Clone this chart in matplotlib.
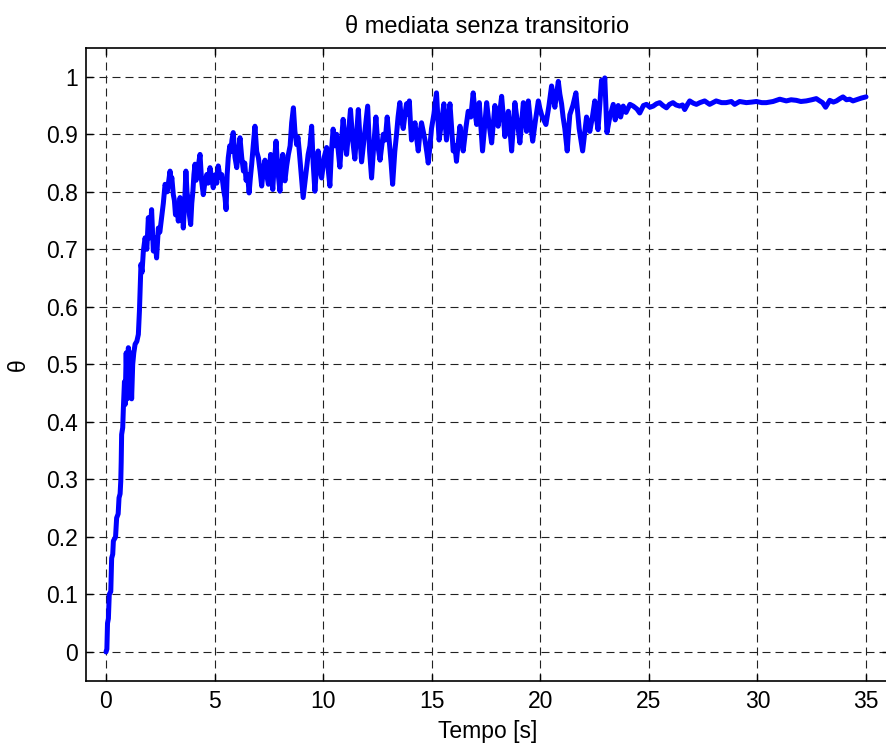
import matplotlib
matplotlib.use("Agg")
import matplotlib.pyplot as plt

plt.rcParams['font.family'] = ['Liberation Sans', 'DejaVu Sans']

title = "\u03b8 mediata senza transitorio"
xlabel = "Tempo [s]"
ylabel = "\u03b8"
xticks = [0, 5, 10, 15, 20, 25, 30, 35]
yticks = [0, 0.1, 0.2, 0.3, 0.4, 0.5, 0.6, 0.7, 0.8, 0.9, 1.0]
ytick_labels = ["0", "0.1", "0.2", "0.3", "0.4", "0.5", "0.6", "0.7", "0.8", "0.9", "1"]

# rise (0 - 3 s)
time_rise = [
    0.00, 0.04, 0.07, 0.11, 0.15, 0.22, 0.26, 0.31, 0.34, 0.44, 0.49, 0.56, 0.60, 0.65,
    0.68, 0.70, 0.72, 0.77, 0.80, 0.85, 0.88, 0.93, 0.98, 1.03, 1.08, 1.13, 1.18, 1.23,
    1.28, 1.34, 1.42, 1.49, 1.54, 1.58, 1.61, 1.66, 1.72, 1.80, 1.88, 1.95, 2.02, 2.10,
    2.18, 2.25, 2.33, 2.41, 2.48, 2.56, 2.64, 2.72, 2.82,
]
theta_rise = [
    0.000, 0.005, 0.050, 0.058, 0.100, 0.105, 0.163, 0.170, 0.193, 0.200, 0.233, 0.240, 0.268, 0.275,
    0.297, 0.330, 0.378, 0.390, 0.424, 0.470, 0.430, 0.520, 0.440, 0.529, 0.450, 0.520, 0.440, 0.500,
    0.520, 0.535, 0.540, 0.552, 0.593, 0.640, 0.674, 0.660, 0.697, 0.720, 0.700, 0.755, 0.720, 0.769,
    0.697, 0.720, 0.685, 0.737, 0.730, 0.755, 0.780, 0.813, 0.800,
]

# noisy plateau (3 - 23 s)
time_noisy = [
    2.95, 3.00, 3.03, 3.10, 3.15, 3.20, 3.27, 3.33, 3.37, 3.41, 3.45, 3.49, 3.52, 3.56,
    3.62, 3.68, 3.73, 3.79, 3.84, 3.90, 3.95, 4.00, 4.05, 4.10, 4.15, 4.20, 4.27, 4.33,
    4.40, 4.48, 4.55, 4.64, 4.70, 4.79, 4.86, 4.94, 5.00, 5.05, 5.10, 5.17, 5.25, 5.33,
    5.38, 5.43, 5.48, 5.53, 5.58, 5.63, 5.70, 5.75, 5.80, 5.86, 5.94, 6.02, 6.10, 6.17,
    6.25, 6.33, 6.39, 6.45, 6.52, 6.59, 6.65, 6.71, 6.78, 6.86, 6.94, 7.02, 7.10, 7.17,
    7.25, 7.32, 7.40, 7.48, 7.53, 7.58, 7.63, 7.68, 7.75, 7.83, 7.92, 8.01, 8.07, 8.14,
    8.19, 8.24, 8.32, 8.40, 8.48, 8.55, 8.63, 8.70, 8.78, 8.84, 8.90, 8.99, 9.08, 9.20,
    9.31, 9.39, 9.47, 9.54, 9.62, 9.70, 9.77, 9.85, 9.93, 10.05, 10.16, 10.23, 10.31,
    10.38, 10.46, 10.54, 10.62, 10.70, 10.77, 10.85, 10.92, 11.00, 11.08, 11.17, 11.26,
    11.36, 11.46, 11.54, 11.62, 11.70, 11.77, 11.85, 11.95, 12.05, 12.14, 12.23, 12.33,
    12.43, 12.52, 12.62, 12.70, 12.77, 12.86, 12.95, 13.07, 13.13, 13.20, 13.30, 13.38,
    13.45, 13.53, 13.61, 13.69, 13.77, 13.84, 13.90, 13.97, 14.02, 14.07, 14.15, 14.23,
    14.30, 14.38, 14.45, 14.53, 14.61, 14.69, 14.77, 14.84, 14.92, 14.99, 15.10, 15.22,
    15.28, 15.34, 15.45, 15.56, 15.62, 15.68, 15.76, 15.84, 15.92, 15.99, 16.07, 16.14,
    16.22, 16.30, 16.38, 16.45, 16.57, 16.68, 16.80, 16.91, 16.99, 17.07, 17.13, 17.19,
    17.27, 17.34, 17.44, 17.53, 17.65, 17.76, 17.84, 17.91, 17.98, 18.06, 18.14, 18.22,
    18.30, 18.37, 18.45, 18.53, 18.61, 18.68, 18.76, 18.83, 18.95, 19.06, 19.14, 19.22,
    19.30, 19.37, 19.45, 19.55, 19.65, 19.78, 19.91, 19.98, 20.06, 20.16, 20.26, 20.40,
    20.52, 20.60, 20.67, 20.75, 20.83, 20.90, 20.98, 21.05, 21.13, 21.24, 21.30, 21.36,
    21.50, 21.64, 21.72, 21.79, 21.87, 21.95, 22.04, 22.13, 22.20, 22.28, 22.40, 22.51,
    22.58, 22.66, 22.74, 22.82, 22.90, 22.97,
]
theta_noisy = [
    0.836, 0.815, 0.825, 0.795, 0.785, 0.760, 0.775, 0.749, 0.770, 0.790, 0.765, 0.750, 0.770, 0.737,
    0.780, 0.836, 0.800, 0.784, 0.760, 0.743, 0.780, 0.800, 0.830, 0.848, 0.820, 0.830, 0.850, 0.865,
    0.820, 0.795, 0.815, 0.830, 0.815, 0.842, 0.825, 0.807, 0.825, 0.830, 0.815, 0.845, 0.825, 0.830,
    0.815, 0.800, 0.790, 0.769, 0.830, 0.859, 0.880, 0.870, 0.890, 0.903, 0.860, 0.842, 0.870, 0.894,
    0.860, 0.836, 0.850, 0.820, 0.830, 0.798, 0.825, 0.848, 0.880, 0.914, 0.870, 0.859, 0.835, 0.810,
    0.840, 0.855, 0.830, 0.813, 0.840, 0.865, 0.830, 0.804, 0.850, 0.888, 0.835, 0.801, 0.840, 0.865,
    0.835, 0.819, 0.845, 0.865, 0.880, 0.920, 0.946, 0.905, 0.882, 0.895, 0.871, 0.830, 0.790, 0.830,
    0.865, 0.880, 0.914, 0.850, 0.801, 0.845, 0.871, 0.840, 0.824, 0.860, 0.877, 0.840, 0.810,
    0.870, 0.909, 0.880, 0.900, 0.870, 0.843, 0.890, 0.926, 0.890, 0.865, 0.905, 0.943,
    0.890, 0.857, 0.900, 0.943, 0.890, 0.852, 0.880, 0.915, 0.949, 0.870, 0.824, 0.880,
    0.930, 0.880, 0.855, 0.880, 0.900, 0.890, 0.930, 0.877, 0.850, 0.813, 0.870, 0.900,
    0.930, 0.955, 0.925, 0.910, 0.935, 0.953, 0.935, 0.958, 0.920, 0.890, 0.905, 0.920,
    0.895, 0.871, 0.900, 0.920, 0.905, 0.890, 0.870, 0.850, 0.880, 0.910, 0.935, 0.972,
    0.930, 0.890, 0.920, 0.953, 0.920, 0.890, 0.925, 0.953, 0.910, 0.871, 0.880, 0.853,
    0.885, 0.914, 0.890, 0.871, 0.910, 0.940, 0.930, 0.972, 0.940, 0.917, 0.935, 0.955,
    0.910, 0.871, 0.915, 0.955, 0.915, 0.885, 0.920, 0.950, 0.930, 0.914, 0.940, 0.966,
    0.930, 0.896, 0.920, 0.940, 0.905, 0.871, 0.915, 0.955, 0.920, 0.885, 0.920, 0.955,
    0.930, 0.905, 0.958, 0.920, 0.888, 0.925, 0.958, 0.945, 0.934, 0.925, 0.917, 0.950,
    0.984, 0.965, 0.947, 0.970, 0.992, 0.970, 0.953, 0.930, 0.910, 0.871, 0.905, 0.934,
    0.950, 0.972, 0.940, 0.910, 0.890, 0.871, 0.900, 0.930, 0.920, 0.905, 0.930, 0.958,
    0.930, 0.908, 0.950, 0.994, 0.975, 0.998,
]

# settling (23 - 35 s)
time_settle = [
    23.07, 23.20, 23.36, 23.45, 23.59, 23.70, 23.82, 23.95, 24.13, 24.28,
    24.45, 24.58, 24.75, 24.89, 25.05, 25.20, 25.35, 25.50, 25.65, 25.81, 25.95, 26.11,
    26.25, 26.42, 26.55, 26.65, 26.78, 26.88, 27.05, 27.19, 27.35, 27.57, 27.80, 28.10,
    28.35, 28.56, 28.80, 28.95, 29.18, 29.49, 29.75, 29.95, 30.20, 30.41, 30.72, 31.03,
    31.33, 31.55, 31.79, 32.00, 32.25, 32.50, 32.71, 32.87, 33.00, 33.14, 33.33, 33.50,
    33.64, 33.80, 33.94, 34.10, 34.25, 34.40, 34.56, 34.79, 35.00,
]
theta_settle = [
    0.903, 0.930, 0.952, 0.925, 0.950, 0.930, 0.949, 0.938, 0.952, 0.949,
    0.944, 0.937, 0.950, 0.952, 0.947, 0.949, 0.953, 0.955, 0.950, 0.946, 0.952, 0.955,
    0.951, 0.949, 0.951, 0.943, 0.952, 0.958, 0.954, 0.952, 0.955, 0.958, 0.952, 0.958,
    0.955, 0.955, 0.957, 0.952, 0.957, 0.955, 0.956, 0.957, 0.955, 0.955, 0.957, 0.961,
    0.958, 0.960, 0.959, 0.957, 0.958, 0.960, 0.962, 0.958, 0.955, 0.947, 0.959, 0.956,
    0.958, 0.962, 0.965, 0.960, 0.961, 0.958, 0.960, 0.963, 0.965,
]

time_s = time_rise + time_noisy + time_settle
theta = theta_rise + theta_noisy + theta_settle

W, H = 887, 747
fig = plt.figure(figsize=(W / 100, H / 100), dpi=100)
ax_left, ax_right, ax_top, ax_bottom = 86, 889, 48, 680.7
ax = fig.add_axes([ax_left / W, (H - ax_bottom) / H, (ax_right - ax_left) / W, (ax_bottom - ax_top) / H])

ax.plot(time_s, theta, color='#0000ff', linewidth=3.6, solid_joinstyle='round', solid_capstyle='round', zorder=3)

px_per_unit = (866 - 106) / 35.0
ax.set_xlim((ax_left - 106) / px_per_unit, (ax_right - 106) / px_per_unit)
ax.set_ylim(-0.05, 1.05)
ax.set_xticks(xticks)
ax.set_xticklabels([str(v) for v in xticks])
ax.set_yticks(yticks)
ax.set_yticklabels(ytick_labels)

ax.grid(True, color='#222222', linestyle=(0, (7.2, 4.5)), linewidth=0.8)
ax.set_axisbelow(True)
ax.tick_params(direction='in', length=5, width=1, top=True, right=True, labelsize=16.5, colors='black')
ax.tick_params(axis='y', pad=6)
ax.tick_params(axis='x', pad=7)
for s in ax.spines.values():
    s.set_linewidth(1.2)
    s.set_color('black')

ax.set_title(title, fontsize=17, pad=11)
ax.set_xlabel(xlabel, fontsize=16.5)
ax.set_ylabel(ylabel, fontsize=16.5)
ax.xaxis.set_label_coords(0.5, (ax_bottom - 720) / (ax_bottom - ax_top))
ax.yaxis.set_label_coords((30 - ax_left) / (ax_right - ax_left), 0.5)

fig.savefig("out.png", dpi=100)
